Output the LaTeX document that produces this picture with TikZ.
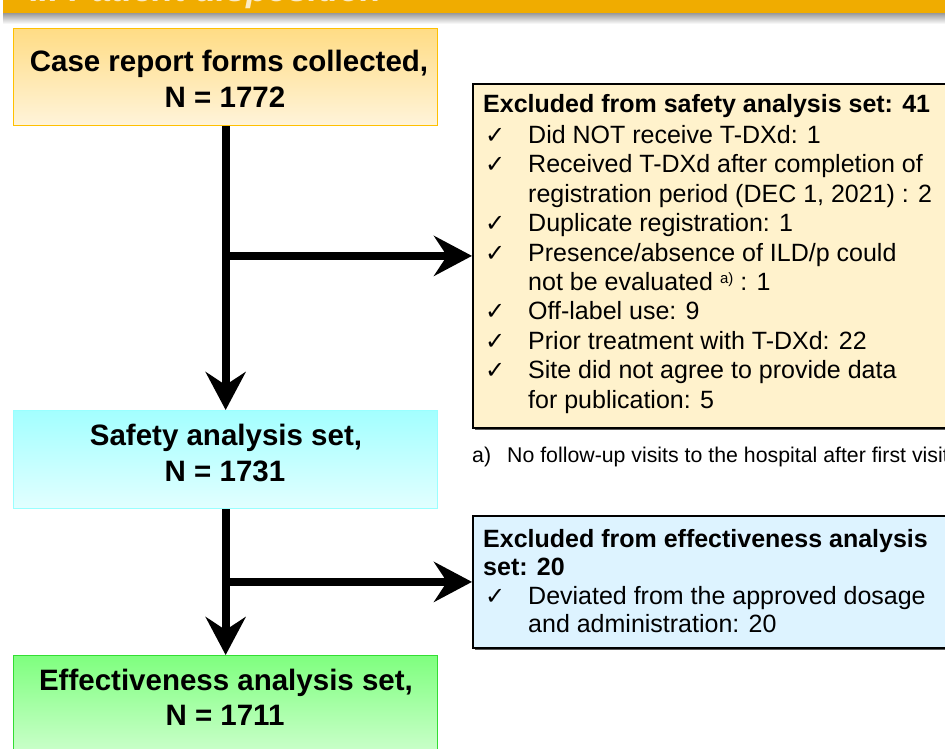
\documentclass[tikz,border=0pt]{standalone}
\usepackage{fontspec}
\setmainfont{Liberation Sans}
\newfontfamily\dejavu{DejaVu Sans}
\usetikzlibrary{arrows.meta,shadows}
\definecolor{bannerc}{HTML}{F0AC00}
\definecolor{bannertxt}{HTML}{FBEBC8}
\definecolor{yA}{HTML}{FFDC85}
\definecolor{yB}{HTML}{FFF4DA}
\definecolor{yE}{HTML}{FFC000}
\definecolor{cA}{HTML}{A3FFFF}
\definecolor{cB}{HTML}{E2FFFF}
\definecolor{cE}{HTML}{99FFFF}
\definecolor{gA}{HTML}{7FFF7F}
\definecolor{gB}{HTML}{D6FFD6}
\definecolor{gE}{HTML}{33DD33}
\definecolor{cream}{HTML}{FFF2CC}
\definecolor{paleblue}{HTML}{DDF3FF}
\tikzset{
  mainbox/.style={line width=1.3pt, minimum width=424pt, anchor=north west, inner sep=0pt},
  exbox/.style={draw=black, line width=1.8pt, anchor=north west, inner sep=0pt,
    drop shadow={shadow xshift=2.5pt, shadow yshift=-2.5pt, fill=black!65, opacity=1}},
  bigtxt/.style={font=\fontsize{29.5}{34}\selectfont\bfseries, inner sep=0pt, anchor=base},
  txt/.style={font=\fontsize{25}{29}\selectfont, inner sep=0pt, anchor=base west},
  btxt/.style={font=\fontsize{25}{29}\selectfont\bfseries, inner sep=0pt, anchor=base west},
  chk/.style={font=\dejavu\fontsize{24}{26}\selectfont, inner sep=0pt, anchor=base west},
  note/.style={font=\fontsize{21.3}{25}\selectfont, inner sep=0pt, anchor=base west},
  arr/.style={line width=8pt, -{Stealth[length=38pt, width=40pt, inset=13pt]}}
}
\begin{document}
\begin{tikzpicture}[x=1pt,y=1pt]
\clip (0,0) rectangle (945,-748);
\fill[white] (0,0) rectangle (945,-748);
% banner
\shade[top color=black!40, bottom color=white] (3,-13) rectangle (945,-24);
\fill[bannerc] (3,0) rectangle (945,-13);
\begin{scope}
\clip (3,0) rectangle (945,-13);
\node[anchor=base west, inner sep=0pt, text=bannertxt,
  font=\fontsize{35}{40}\selectfont\bfseries\itshape] (bannertitle) at (30,-1.5) {II. Patient disposition};
\end{scope}
% main boxes
\node[mainbox, minimum height=97pt, top color=yA, bottom color=yB, draw=yE] (crf) at (13,-28) {};
\node[mainbox, minimum height=98pt, top color=cA, bottom color=cB, draw=cE] (safe) at (13,-410) {};
\node[mainbox, minimum height=112pt, top color=gA, bottom color=gB, draw=gE] (eff) at (13,-655) {};
\node[bigtxt] (crf1) at (229,-71.7) {Case report forms collected,};
\node[bigtxt] (crf2) at (225,-107.3) {N = 1772};
\node[bigtxt] (safe1) at (226,-445) {Safety analysis set,};
\node[bigtxt] (safe2) at (225,-481.5) {N = 1731};
\node[bigtxt] (eff1) at (226,-690) {Effectiveness analysis set,};
\node[bigtxt] (eff2) at (225,-725.5) {N = 1711};
% exclusion box 1
\node[exbox, fill=cream, minimum width=490pt, minimum height=344pt] (ex1) at (472,-83) {};
\node[btxt] (ex1t) at (483,-112) {Excluded from safety analysis set: 41};
\node[chk] (k1) at (485,-143.5) {✓};
\node[txt] (e1) at (528,-143.5) {Did NOT receive T-DXd: 1};
\node[chk] (k2) at (485,-172.9) {✓};
\node[txt] (e2) at (528,-172.9) {Received T-DXd after completion of};
\node[txt] (e3) at (528,-202.3) {registration period (DEC 1, 2021) : 2};
\node[chk] (k4) at (485,-231.7) {✓};
\node[txt] (e4) at (528,-231.7) {Duplicate registration: 1};
\node[chk] (k5) at (485,-261.1) {✓};
\node[txt] (e5) at (528,-261.1) {Presence/absence of ILD/p could};
\node[txt] (e6) at (528,-290.5) {not be evaluated {\fontsize{15}{16}\selectfont\raisebox{7pt}{a)}} : 1};
\node[chk] (k7) at (485,-319.9) {✓};
\node[txt] (e7) at (528,-319.9) {Off-label use: 9};
\node[chk] (k8) at (485,-349.3) {✓};
\node[txt] (e8) at (528,-349.3) {Prior treatment with T-DXd: 22};
\node[chk] (k9) at (485,-378.7) {✓};
\node[txt] (e9) at (528,-378.7) {Site did not agree to provide data};
\node[txt] (e10) at (528,-408.1) {for publication: 5};
% footnote
\node[note] (fna) at (472,-462) {a)};
\node[note] (fnb) at (507,-462) {No follow-up visits to the hospital after first visit};
% exclusion box 2
\node[exbox, fill=paleblue, minimum width=490pt, minimum height=132pt] (ex2) at (472,-515) {};
\node[btxt] (ex2t) at (483,-547) {Excluded from effectiveness analysis};
\node[btxt] (ex2u) at (483,-575.5) {set: 20};
\node[chk] (q1) at (485,-604) {✓};
\node[txt] (f1) at (528,-604) {Deviated from the approved dosage};
\node[txt] (f2) at (528,-632.5) {and administration: 20};
% arrows
\draw[arr] (crf.south) -- (safe.north);
\coordinate (br1) at (crf.south |- ex1.west);
\draw[arr] (br1) -- (ex1.west);
\draw[arr] (safe.south) -- (eff.north);
\coordinate (br2) at (safe.south |- ex2.west);
\draw[arr] (br2) -- (ex2.west);
\end{tikzpicture}
\end{document}
